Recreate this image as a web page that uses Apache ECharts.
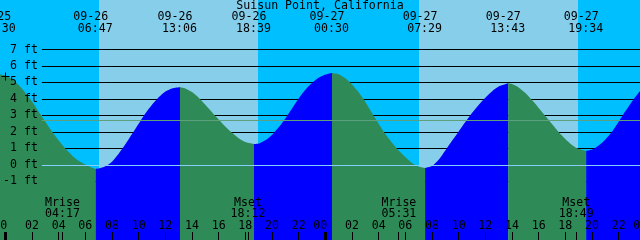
<!DOCTYPE html>
<html><head><meta charset="utf-8">
<script src="https://cdn.jsdelivr.net/npm/echarts@6/dist/echarts.min.js"></script>
<style>html,body{margin:0;padding:0;background:#00BFFF;}#c{width:640px;height:240px;}</style>
</head><body><div id="c"></div>
<script>
// ---------- data ----------
const chartTitle = 'Suisun Point, California';

// tide height readings (hours from 09-26 00:00, feet)
const tideHours = [
  -0.5, 0, 0.5, 1, 1.5, 2, 2.5, 3, 3.5, 4, 4.5, 5, 5.5, 6, 6.5, 6.783,
  7, 7.5, 8, 8.5, 9, 9.5, 10, 10.5, 11, 11.5, 12, 12.5, 13.1,
  13.5, 14, 14.5, 15, 15.5, 16, 16.5, 17, 17.5, 18, 18.65,
  19, 19.5, 20, 20.5, 21, 21.5, 22, 22.5, 23, 23.5, 24, 24.5,
  25, 25.5, 26, 26.5, 27, 27.5, 28, 28.5, 29, 29.5, 30, 30.5, 31, 31.483,
  32, 32.5, 33, 33.5, 34, 34.5, 35, 35.5, 36, 36.5, 37, 37.717,
  38, 38.5, 39, 39.5, 40, 40.5, 41, 41.5, 42, 42.5, 43, 43.567,
  44, 44.5, 45, 45.5, 46, 46.5, 47, 47.5, 48
];
const tideLevels = [
  5.50, 5.42, 5.20, 4.85, 4.38, 3.84, 3.22, 2.62, 2.03, 1.48, 0.99, 0.58, 0.25, 0.02, -0.17, -0.24,
  -0.22, -0.08, 0.20, 0.68, 1.25, 1.87, 2.50, 3.12, 3.65, 4.10, 4.45, 4.64, 4.71,
  4.64, 4.42, 4.08, 3.65, 3.20, 2.76, 2.33, 1.95, 1.62, 1.39, 1.27,
  1.30, 1.50, 1.82, 2.28, 2.82, 3.42, 4.03, 4.56, 4.97, 5.28, 5.48, 5.58,
  5.50, 5.25, 4.88, 4.40, 3.82, 3.15, 2.50, 1.88, 1.35, 0.88, 0.48, 0.12, -0.09, -0.18,
  -0.06, 0.32, 0.88, 1.46, 2.03, 2.60, 3.15, 3.64, 4.08, 4.46, 4.75, 4.95,
  4.90, 4.70, 4.36, 3.93, 3.46, 2.97, 2.48, 2.00, 1.57, 1.21, 0.97, 0.85,
  0.93, 1.18, 1.55, 2.02, 2.62, 3.25, 3.85, 4.38, 4.75
];

// tide events (top labels)
const eventDays   = [25, 26, 26, 26, 27, 27, 27, 27];
const eventDates  = ['09-25', '09-26', '09-26', '09-26', '09-27', '09-27', '09-27', '09-27'];
const eventClocks = ['23:30', '06:47', '13:06', '18:39', '00:30', '07:29', '13:43', '19:34'];
const eventKinds  = ['high', 'low', 'high', 'low', 'high', 'low', 'high', 'low'];

// moon events
const moonDays   = [26, 26, 27, 27];
const moonKinds  = ['Mrise', 'Mset', 'Mrise', 'Mset'];
const moonClocks = ['04:17', '18:12', '05:31', '18:49'];

// daylight
const sunDays    = [26, 27];
const sunRises   = ['07:02', '07:02'];
const sunSets    = ['18:57', '18:57'];

// hour ticks and level ticks
const hourTicks  = [0, 2, 4, 6, 8, 10, 12, 14, 16, 18, 20, 22, 24, 26, 28, 30, 32, 34, 36, 38, 40, 42, 44, 46, 48];
const levelMin = -1, levelMax = 7;
const datumLevel = 0;
const meanLevel = 2.7;
const nowHour = 0;

// ---------- layout ----------
const X_MIN = -0.4, X_MAX = 47.6;
const Y_MIN = -4.55, Y_MAX = 10;
const H = 240;
const FONT_FAMILY = 'DejaVu Sans Mono';
const FONT_SIZE = 11.6;
const FONT = FONT_SIZE + 'px "' + FONT_FAMILY + '", monospace';
const NIGHT = '#00BFFF', DAY = '#87CEEB', RISE = '#0000FF', FALL = '#2E8B57';

function toHour(day, clock) {
  const p = clock.split(':').map(Number);
  return (day - 26) * 24 + p[0] + p[1] / 60;
}
const eventHours = eventDays.map((d, i) => toHour(d, eventClocks[i]));
const moonHours = moonDays.map((d, i) => toHour(d, moonClocks[i]));
const sunSpans = sunDays.map((d, i) => [toHour(d, sunRises[i]), toHour(d, sunSets[i])]);
const nowLevel = tideLevels[tideHours.indexOf(nowHour)];

const pyOf = v => (Y_MAX - v) / (Y_MAX - Y_MIN) * H;
const grid2Top = pyOf(levelMax);
const grid2Bottom = H - pyOf(levelMin);

// tide segments
const tideSeries = [];
for (let i = 0; i < eventHours.length; i++) {
  const a = eventHours[i];
  const b = i + 1 < eventHours.length ? eventHours[i + 1] : Infinity;
  const pts = [];
  tideHours.forEach((t, j) => { if (t >= a - 0.01 && t <= b + 0.01) pts.push([t, tideLevels[j]]); });
  const col = eventKinds[i] === 'low' ? RISE : FALL;
  tideSeries.push({
    type: 'line', xAxisIndex: 0, yAxisIndex: 0, data: pts, z: 2,
    showSymbol: false, smooth: 0.25, silent: true,
    lineStyle: { width: 0, opacity: 0 },
    areaStyle: { color: col, opacity: 1, origin: 'start' }
  });
}

const pad = n => (n < 10 ? '0' : '') + n;
const levelAxisBase = {
  gridIndex: 1, type: 'value', position: 'left', offset: 0,
  min: levelMin, max: levelMax, interval: 1,
  axisLine: { show: false }, axisTick: { show: false }
};

const option = {
  animation: false,
  backgroundColor: NIGHT,
  title: {
    text: chartTitle, left: 'center', top: 0, padding: 0,
    textStyle: { fontFamily: FONT_FAMILY, fontSize: FONT_SIZE, fontWeight: 'normal', color: '#000', lineHeight: 12 }
  },
  grid: [
    { left: 0, right: 0, top: 0, bottom: 0 },
    { left: 39, right: 0, top: grid2Top, bottom: grid2Bottom }
  ],
  xAxis: [
    { gridIndex: 0, type: 'value', min: X_MIN, max: X_MAX, show: false },
    { gridIndex: 1, type: 'value', min: 0, max: 1, show: false }
  ],
  yAxis: [
    { gridIndex: 0, type: 'value', min: Y_MIN, max: Y_MAX, show: false },
    Object.assign({}, levelAxisBase, {
      z: 0,
      splitLine: { show: true, lineStyle: { color: '#000', width: 1 } },
      axisLabel: { show: false }
    }),
    Object.assign({}, levelAxisBase, {
      z: 10,
      splitLine: { show: false },
      axisLabel: { formatter: v => v + ' ft', margin: 4, color: '#000', fontFamily: FONT_FAMILY, fontSize: FONT_SIZE }
    })
  ],
  series: [
    // daylight background
    {
      type: 'custom', xAxisIndex: 0, yAxisIndex: 0, z: -1, silent: true,
      data: sunSpans,
      renderItem(params, api) {
        const p1 = api.coord([api.value(0), Y_MAX]);
        const p2 = api.coord([api.value(1), Y_MIN]);
        return { type: 'rect', shape: { x: Math.round(p1[0]), y: p1[1], width: Math.round(p2[0]) - Math.round(p1[0]), height: p2[1] - p1[1] }, style: { fill: DAY } };
      }
    },
    ...tideSeries,
    // datum and mean level lines
    {
      type: 'custom', xAxisIndex: 1, yAxisIndex: 1, z: 3, silent: true,
      data: [[0, datumLevel], [0, meanLevel]],
      renderItem(params, api) {
        const cs = params.coordSys;
        const y = Math.round(api.coord([0, api.value(1)])[1]) + 0.5;
        const col = params.dataIndex === 0 ? '#87CEFA' : '#5E9F7C';
        return { type: 'line', shape: { x1: cs.x, y1: y, x2: cs.x + cs.width, y2: y }, style: { stroke: col, lineWidth: 1 } };
      }
    },
    // hour ticks and labels
    {
      type: 'custom', xAxisIndex: 0, yAxisIndex: 0, z: 5, silent: true,
      data: hourTicks.map(h => [h, 0]),
      renderItem(params, api) {
        const t = api.value(0);
        const x = api.coord([t, Y_MIN])[0];
        const bottom = params.coordSys.y + params.coordSys.height;
        const midnight = t % 24 === 0;
        const xr = Math.round(x);
        return {
          type: 'group', children: [
            { type: 'rect', shape: { x: midnight ? xr - 1 : Math.floor(x), y: bottom - 8, width: midnight ? 3 : 1, height: 8 }, style: { fill: '#000' } },
            { type: 'text', style: { text: pad(t % 24), x: x + (midnight ? -5 : 0), y: bottom - 14.5, align: 'center', verticalAlign: 'middle', font: FONT, fill: '#000' } }
          ]
        };
      }
    },
    // moon events
    {
      type: 'custom', xAxisIndex: 0, yAxisIndex: 0, z: 5, silent: true,
      data: moonHours.map(h => [h, 0]),
      renderItem(params, api) {
        const i = params.dataIndex;
        const x = api.coord([api.value(0), Y_MIN])[0];
        const bottom = params.coordSys.y + params.coordSys.height;
        return {
          type: 'group', children: [
            { type: 'rect', shape: { x: Math.floor(x), y: bottom - 8, width: 1, height: 8 }, style: { fill: '#000' } },
            { type: 'text', style: { text: moonKinds[i], x: x, y: bottom - 37.5, align: 'center', verticalAlign: 'middle', font: FONT, fill: '#000' } },
            { type: 'text', style: { text: moonClocks[i], x: x, y: bottom - 26.5, align: 'center', verticalAlign: 'middle', font: FONT, fill: '#000' } }
          ]
        };
      }
    },
    // tide event labels
    {
      type: 'custom', xAxisIndex: 0, yAxisIndex: 0, z: 5, silent: true,
      data: eventHours.map(h => [h, 0]),
      renderItem(params, api) {
        const i = params.dataIndex;
        const x = api.coord([api.value(0), Y_MAX])[0];
        const top = params.coordSys.y;
        return {
          type: 'group', children: [
            { type: 'text', style: { text: eventDates[i], x: x - 5, y: top + 17, align: 'center', verticalAlign: 'middle', font: FONT, fill: '#000' } },
            { type: 'text', style: { text: eventClocks[i], x: x - 0.5, y: top + 29.3, align: 'center', verticalAlign: 'middle', font: FONT, fill: '#000' } }
          ]
        };
      }
    },
    // current time mark
    {
      type: 'custom', xAxisIndex: 0, yAxisIndex: 0, z: 5, silent: true,
      data: [[nowHour, nowLevel]],
      renderItem(params, api) {
        const p = api.coord([api.value(0), api.value(1)]);
        const cx = Math.round(p[0]) + 0.5, cy = Math.round(p[1]) + 0.5;
        return {
          type: 'group', children: [
            { type: 'line', shape: { x1: cx - 4, y1: cy, x2: cx + 4, y2: cy }, style: { stroke: '#000', lineWidth: 1 } },
            { type: 'line', shape: { x1: cx, y1: cy - 4, x2: cx, y2: cy + 4 }, style: { stroke: '#000', lineWidth: 1 } }
          ]
        };
      }
    }
  ]
};

const chart = echarts.init(document.getElementById('c'), null, { renderer: 'canvas' });
chart.setOption(option);
</script>
</body></html>
